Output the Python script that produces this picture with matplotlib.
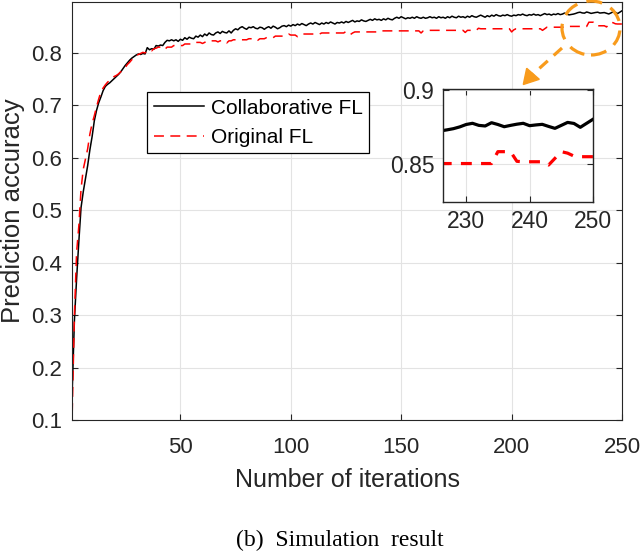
import matplotlib
matplotlib.use("Agg")
import matplotlib.pyplot as plt
from matplotlib.patches import Ellipse, Polygon
from matplotlib.lines import Line2D

plt.rcParams['font.family'] = ['Liberation Sans', 'DejaVu Sans']

iterations = list(range(1, 251))

collab_fl = [
    0.155, 0.290, 0.370, 0.440, 0.505, 0.535, 0.560, 0.585, 0.615, 0.640,
    0.670, 0.690, 0.705, 0.716, 0.728, 0.736, 0.740, 0.743, 0.747, 0.751,
    0.755, 0.759, 0.764, 0.770, 0.776, 0.781, 0.786, 0.790, 0.793, 0.796,
    0.798, 0.797, 0.799, 0.798, 0.810, 0.806, 0.808, 0.807, 0.814, 0.813,
    0.815, 0.814, 0.820, 0.824, 0.823, 0.825, 0.823, 0.825, 0.822, 0.826,
    0.824, 0.829, 0.826, 0.830, 0.828, 0.827, 0.832, 0.830, 0.834, 0.831,
    0.836, 0.833, 0.838, 0.835, 0.834, 0.838, 0.840, 0.837, 0.841, 0.839,
    0.838, 0.842, 0.838, 0.843, 0.846, 0.844, 0.848, 0.850, 0.847, 0.845,
    0.849, 0.848, 0.850, 0.847, 0.846, 0.849, 0.848, 0.845, 0.848, 0.850,
    0.847, 0.851, 0.849, 0.846, 0.848, 0.851, 0.852, 0.850, 0.853, 0.851,
    0.854, 0.852, 0.855, 0.853, 0.856, 0.854, 0.852, 0.855, 0.857, 0.855,
    0.858, 0.856, 0.854, 0.857, 0.855, 0.858, 0.856, 0.859, 0.857, 0.855,
    0.858, 0.857, 0.859, 0.857, 0.860, 0.858, 0.860, 0.862, 0.859, 0.861,
    0.860, 0.863, 0.861, 0.860, 0.862, 0.864, 0.862, 0.865, 0.863, 0.864,
    0.862, 0.865, 0.863, 0.866, 0.864, 0.863, 0.866, 0.868, 0.866, 0.869,
    0.867, 0.865, 0.867, 0.866, 0.868, 0.866, 0.869, 0.867, 0.866, 0.868,
    0.866, 0.867, 0.869, 0.867, 0.868, 0.866, 0.869, 0.867, 0.868, 0.866,
    0.869, 0.867, 0.870, 0.868, 0.867, 0.870, 0.868, 0.869, 0.867, 0.870,
    0.868, 0.871, 0.869, 0.868, 0.870, 0.872, 0.870, 0.868, 0.871, 0.869,
    0.872, 0.870, 0.873, 0.871, 0.870, 0.872, 0.871, 0.873, 0.871, 0.870,
    0.872, 0.871, 0.873, 0.872, 0.874, 0.872, 0.871, 0.873, 0.872, 0.874,
    0.872, 0.873, 0.871, 0.873, 0.875, 0.873, 0.874, 0.872, 0.874, 0.873,
    0.875, 0.873, 0.874, 0.876, 0.874, 0.8725, 0.8732, 0.8740, 0.8752, 0.8768,
    0.8776, 0.8762, 0.8758, 0.8780, 0.8768, 0.8753, 0.8762, 0.8770, 0.8776, 0.8760,
    0.8765, 0.8769, 0.8755, 0.8742, 0.8762, 0.8782, 0.8775, 0.8749, 0.8776, 0.8803,
]

original_fl = [
    0.113, 0.300, 0.420, 0.470, 0.540, 0.578, 0.598, 0.617, 0.645, 0.665,
    0.680, 0.697, 0.712, 0.726, 0.733, 0.739, 0.744, 0.748, 0.751, 0.755,
    0.757, 0.760, 0.764, 0.767, 0.772, 0.778, 0.782, 0.787, 0.791, 0.795,
    0.797, 0.799, 0.801, 0.800, 0.803, 0.806, 0.804, 0.808, 0.809, 0.811,
    0.811, 0.811, 0.807, 0.811, 0.811, 0.811, 0.814, 0.814, 0.814, 0.814,
    0.814, 0.817, 0.817, 0.817, 0.817, 0.817, 0.820, 0.820, 0.820, 0.818,
    0.820, 0.823, 0.823, 0.823, 0.823, 0.823, 0.821, 0.823, 0.823, 0.823,
    0.819, 0.823, 0.823, 0.825, 0.825, 0.825, 0.825, 0.825, 0.825, 0.825,
    0.827, 0.827, 0.827, 0.827, 0.824, 0.827, 0.827, 0.827, 0.829, 0.829,
    0.829, 0.829, 0.832, 0.832, 0.832, 0.832, 0.832, 0.834, 0.836, 0.834,
    0.834, 0.834, 0.831, 0.834, 0.836, 0.836, 0.836, 0.836, 0.836, 0.836,
    0.836, 0.836, 0.836, 0.838, 0.838, 0.838, 0.838, 0.838, 0.838, 0.838,
    0.838, 0.838, 0.838, 0.838, 0.841, 0.838, 0.835, 0.838, 0.840, 0.840,
    0.840, 0.840, 0.840, 0.840, 0.840, 0.840, 0.840, 0.840, 0.840, 0.840,
    0.842, 0.842, 0.842, 0.842, 0.842, 0.842, 0.842, 0.842, 0.842, 0.842,
    0.842, 0.842, 0.842, 0.842, 0.842, 0.842, 0.842, 0.842, 0.838, 0.842,
    0.843, 0.843, 0.843, 0.843, 0.843, 0.843, 0.843, 0.843, 0.843, 0.843,
    0.843, 0.843, 0.843, 0.843, 0.843, 0.843, 0.843, 0.843, 0.839, 0.843,
    0.843, 0.843, 0.843, 0.843, 0.847, 0.846, 0.846, 0.846, 0.846, 0.846,
    0.846, 0.846, 0.846, 0.846, 0.846, 0.846, 0.846, 0.846, 0.846, 0.840,
    0.844, 0.846, 0.846, 0.846, 0.846, 0.846, 0.846, 0.846, 0.846, 0.846,
    0.846, 0.846, 0.846, 0.843, 0.846, 0.849, 0.849, 0.849, 0.849, 0.849,
    0.849, 0.849, 0.849, 0.849, 0.849, 0.8505, 0.8505, 0.8505, 0.8505, 0.8505,
    0.8505, 0.8505, 0.8505, 0.8505, 0.8585, 0.8585, 0.8585, 0.8520, 0.8517, 0.8517,
    0.8517, 0.8517, 0.8495, 0.8540, 0.8585, 0.8575, 0.8555, 0.8551, 0.8551, 0.8551,
]

series_labels = ["Collaborative FL", "Original FL"]
main_xticks = [50, 100, 150, 200, 250]
main_yticks = [0.1, 0.2, 0.3, 0.4, 0.5, 0.6, 0.7, 0.8]
inset_xticks = [230, 240, 250]
inset_yticks = [0.85, 0.9]
inset_start = 226

W, H = 640, 558
fig = plt.figure(figsize=(W / 100, H / 100), dpi=100)

def fx(px):
    return px / W

def fy(py):
    return 1 - py / H

axis_col = '#262626'
grid_col = '#e3e3e3'
orange = '#F89B1C'

ax_left, ax_right, ax_top, ax_bottom = 72.2, 622, 1.5, 420
ax = fig.add_axes([fx(ax_left), fy(ax_bottom), fx(ax_right) - fx(ax_left), fy(ax_top) - fy(ax_bottom)])
ax.plot(iterations, collab_fl, color='black', lw=1.1, label=series_labels[0])
ax.plot(iterations, original_fl, color='red', lw=1.1, dashes=(6.5, 4.2),
        label=series_labels[1])
ax.set_xlim(1, 250)
ax.set_ylim(0.1, 0.898)
ax.set_xticks(main_xticks)
ax.set_yticks(main_yticks)
ax.set_yticklabels([f"{v:.1f}" for v in main_yticks])
ax.grid(True, color=grid_col, lw=0.8)
ax.set_axisbelow(True)
ax.tick_params(direction='in', length=4, width=0.8, colors=axis_col,
               labelsize=16, top=True, right=True)
ax.tick_params(axis='y', pad=7)
ax.tick_params(axis='x', pad=12)
for s in ax.spines.values():
    s.set_color(axis_col)
    s.set_linewidth(0.8)
ax.set_xlabel("Number of iterations", fontsize=18, color=axis_col, labelpad=7.5)
ax.set_ylabel("Prediction accuracy", fontsize=18.5, color=axis_col)
ax.yaxis.set_label_coords((13 - ax_left) / (ax_right - ax_left), 0.5)
ax.yaxis.label.set_va('center')

leg = ax.legend(loc='upper left', bbox_to_anchor=(fx(147.3), fy(92.3)),
                bbox_transform=fig.transFigure, borderaxespad=0,
                fancybox=False, edgecolor='black', fontsize=15,
                handlelength=2.4, handletextpad=0.35, borderpad=0.3,
                labelspacing=0.5, framealpha=1)
leg.get_frame().set_linewidth(0.9)

# inset
inset_x = iterations[inset_start - 1:]
axin = fig.add_axes([fx(442.7), fy(201.7), fx(593.3) - fx(442.7), fy(89.3) - fy(201.7)])
axin.plot(inset_x, collab_fl[inset_start - 1:], color='black', lw=2.3)
axin.plot(inset_x, original_fl[inset_start - 1:], color='red', lw=2.3, dashes=(3.4, 2.9))
axin.set_xlim(226.3, 250.05)
axin.set_ylim(0.8248, 0.9005)
axin.set_xticks(inset_xticks)
axin.set_yticks(inset_yticks)
axin.set_yticklabels(["0.85", "0.9"])
axin.grid(True, color=grid_col, lw=0.8)
axin.set_axisbelow(True)
axin.tick_params(direction='in', length=4, width=0.8, colors=axis_col,
                 labelsize=16.5, top=True, right=True, pad=6)
for s in axin.spines.values():
    s.set_color(axis_col)
    s.set_linewidth(1.0)

# orange dashed circle and arrow
circ = Ellipse((fx(591), fy(28)), fx(58), 54 / H, transform=fig.transFigure,
               fill=False, edgecolor=orange, lw=2.3, linestyle=(0, (5, 3)))
fig.add_artist(circ)
shaft = Line2D([fx(562), fx(532)], [fy(48), fy(75)], transform=fig.transFigure,
               color=orange, lw=2.3, dashes=(3.5, 2.5))
fig.add_artist(shaft)
head = Polygon([(fx(523.3), fy(84.5)), (fx(526.7), fy(68.3)), (fx(539.3), fy(79.3))],
               closed=True, transform=fig.transFigure, color=orange)
fig.add_artist(head)

fig.text(fx(340), fy(540), "(b)  Simulation  result", family=['Liberation Serif', 'DejaVu Serif'],
         fontsize=17, ha='center', va='center', color='black')

fig.savefig("out.png", dpi=100)
